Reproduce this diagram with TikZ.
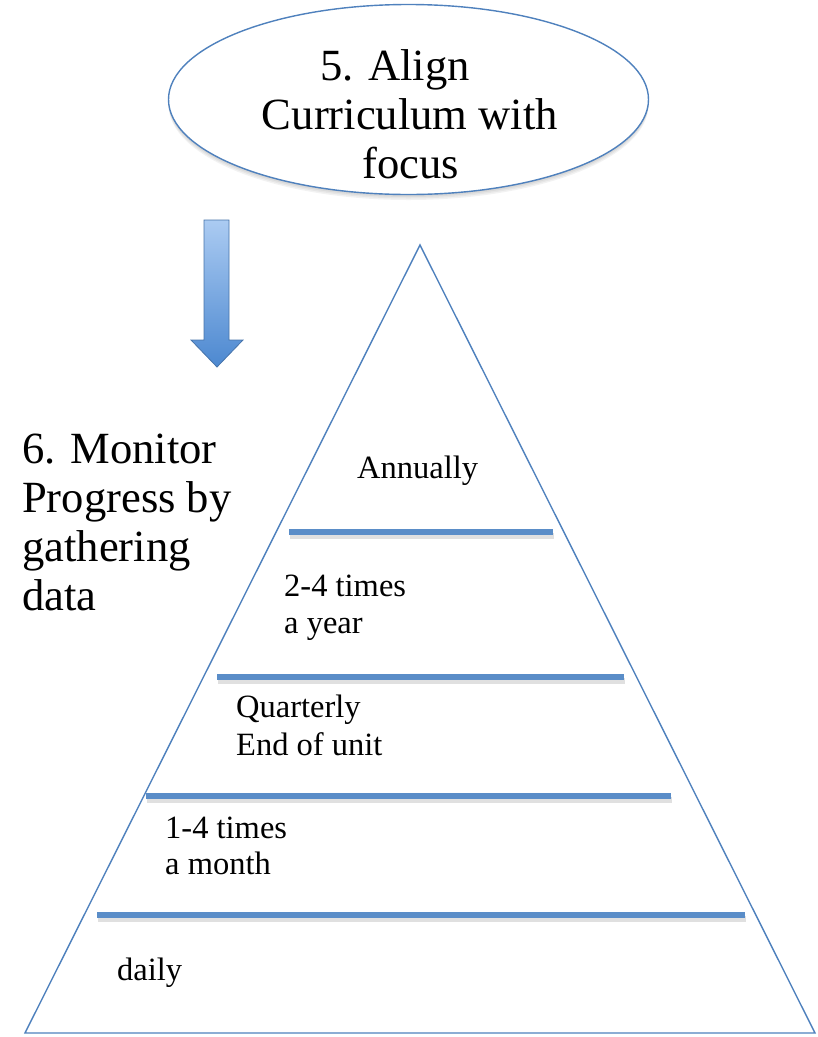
\documentclass[tikz,border=0pt]{standalone}
\usepackage{fontspec}
\setmainfont{Liberation Serif}
\usetikzlibrary{shapes.geometric}
\definecolor{office}{HTML}{4F81BD}
\definecolor{barblue}{HTML}{5A8DC8}
\definecolor{arrtop}{HTML}{ABCBF2}
\definecolor{arrbot}{HTML}{4C88D0}
\tikzset{
  bigtxt/.style={font=\fontsize{44.6}{49}\selectfont, inner sep=0pt, anchor=base},
  bigleft/.style={bigtxt, anchor=base west},
  smalltxt/.style={font=\fontsize{32.5}{38}\selectfont, inner sep=0pt, anchor=base west},
  bar/.style={draw=barblue, line width=5.5pt},
  barshadow/.style={draw=black, opacity=0.12, line width=6pt},
  softshadow/.style={fill=black, opacity=0.05},
}
\begin{document}
\begin{tikzpicture}[x=1pt,y=-1pt]
\useasboundingbox (0,0) rectangle (818,1037);
% ellipse soft shadow
\foreach \d in {1,2.5,4,5.5}{
  \fill[softshadow] (408.5,{99.5+\d}) ellipse [x radius=240, y radius=95];
}
\node[ellipse, draw=office, line width=1.4pt, fill=white, minimum width=480pt, minimum height=190pt] (ell) at (408.5,99.5) {};
\node[bigtxt] (e1) at (395,80) {5. Align};
\node[bigtxt] (e2) at (410,129) {Curriculum with};
\node[bigtxt] (e3) at (410.5,178) {focus};
% arrow
\path[draw=office!90!black, line width=0.8pt, top color=arrtop, bottom color=arrbot]
  (204,220) -- (229,220) -- (229,340) -- (243,340) -- (217,367) -- (191,340) -- (204,340) -- cycle;
% left text
\node[bigleft] (l1) at (22,463) {6. Monitor};
\node[bigleft] (l2) at (22,512) {Progress by};
\node[bigleft] (l3) at (22,561) {gathering};
\node[bigleft] (l4) at (22,610) {data};
% pyramid
\coordinate (apex) at (420,245);
\coordinate (bl) at (25,1033);
\coordinate (br) at (815,1033);
\draw[office, line width=1.4pt, line join=miter] (apex) -- (br) -- (bl) -- cycle;
% bars
\coordinate (b1l) at (289,532); \coordinate (b1r) at (553,532);
\coordinate (b2l) at (217,677); \coordinate (b2r) at (624,677);
\coordinate (b3l) at (146,796); \coordinate (b3r) at (671,796);
\coordinate (b4l) at (97,915);  \coordinate (b4r) at (745,915);
\foreach \a/\b in {b1l/b1r,b2l/b2r,b3l/b3r,b4l/b4r}{
  \draw[barshadow] ([shift={(1,3.5)}]\a) -- ([shift={(1,3.5)}]\b);
  \draw[bar] (\a) -- (\b);
}
% labels
\node[smalltxt] (t1) at (357,478) {Annually};
\node[smalltxt] (t2) at (284,596) {2-4 times};
\node[smalltxt] (t3) at (284,633) {a year};
\node[smalltxt] (t4) at (236,717) {Quarterly};
\node[smalltxt] (t5) at (236,755) {End of unit};
\node[smalltxt] (t6) at (165,838) {1-4 times};
\node[smalltxt] (t7) at (165,874) {a month};
\node[smalltxt] (t8) at (117,980) {daily};
\end{tikzpicture}
\end{document}
